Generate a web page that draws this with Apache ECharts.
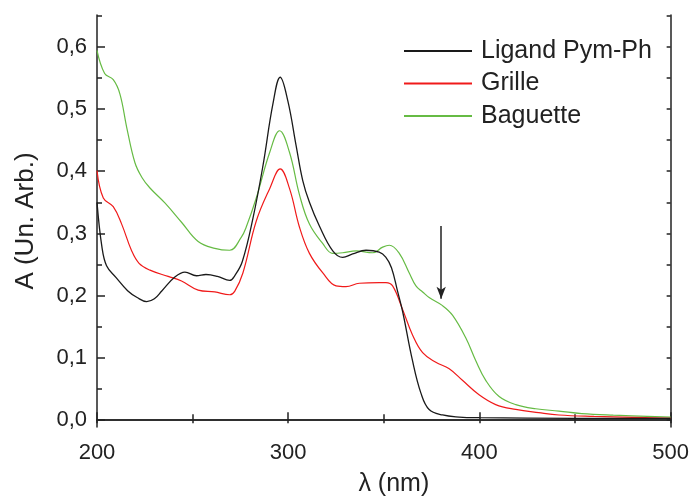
<!DOCTYPE html>
<html>
<head>
<meta charset="utf-8">
<script src="https://cdn.jsdelivr.net/npm/echarts@6/dist/echarts.min.js"></script>
<style>html,body{margin:0;padding:0;background:#fff}#c{width:692px;height:502px}</style>
</head>
<body>
<div id="c"></div>
<script>
// wavelength (nm) / absorbance pairs
const ligandPymPh = [[200,0.350],[202.5,0.280],[205,0.248],[210,0.229],[216,0.208],[221,0.197],[226,0.1905],[230,0.195],[234,0.208],[240.7,0.230],[246,0.238],[252,0.232],[257,0.234],[263,0.231],[269.4,0.2245],[272,0.232],[276,0.255],[281.6,0.325],[286.8,0.409],[292,0.508],[295.8,0.551],[299.8,0.513],[304.2,0.440],[307.6,0.385],[311.1,0.350],[316.3,0.312],[323.3,0.272],[328.5,0.2615],[333.7,0.267],[340.7,0.273],[347.6,0.270],[351,0.262],[354,0.245],[357.2,0.207],[359.8,0.175],[365,0.0955],[369.4,0.0434],[373.7,0.017],[380.7,0.0083],[389.4,0.005],[400,0.004],[450,0.003],[500,0.0027]];
const grille = [[200,0.401],[203.3,0.357],[208.5,0.343],[212.9,0.315],[218,0.273],[222,0.252],[227.7,0.241],[237.2,0.231],[244.2,0.2235],[252.9,0.209],[261.6,0.206],[269.4,0.2015],[272,0.207],[276.3,0.2365],[283.3,0.32],[290.3,0.372],[295.8,0.4036],[300.7,0.372],[305.9,0.31],[311.1,0.268],[318.1,0.2365],[325,0.2157],[330.2,0.2145],[337.2,0.220],[347.6,0.221],[351.1,0.221],[354.6,0.2157],[359.8,0.178],[365,0.137],[370.3,0.1085],[377.2,0.093],[384.2,0.0825],[391.1,0.064],[399.8,0.0407],[408.5,0.025],[419,0.0172],[431,0.012],[441.6,0.0083],[460,0.006],[480,0.0045],[500,0.003]];
const baguette = [[200,0.594],[204,0.557],[208.5,0.547],[212,0.524],[215.5,0.471],[219.8,0.414],[223.5,0.390],[227.7,0.373],[235.5,0.349],[244.2,0.318],[252.9,0.287],[261.6,0.276],[269.4,0.273],[275.5,0.294],[278,0.31],[283.3,0.357],[290.3,0.43],[295.5,0.465],[300.7,0.43],[305.9,0.362],[311.1,0.315],[318.1,0.2835],[323.3,0.268],[328.5,0.269],[335.5,0.272],[344.2,0.269],[349.4,0.278],[352.9,0.281],[358.1,0.268],[363.3,0.2365],[366.8,0.2157],[370.3,0.206],[373.7,0.197],[380.7,0.184],[385.9,0.1687],[392.9,0.132],[398.1,0.0955],[403.3,0.064],[410.3,0.038],[419,0.025],[429.4,0.0183],[441.6,0.0146],[453.5,0.0105],[470,0.008],[500,0.005]];
const seriesNames = ['Ligand Pym-Ph','Grille','Baguette'];
const yMajorTicks = [0,0.1,0.2,0.3,0.4,0.5,0.6];
const yMinorTicks = [0.05,0.15,0.25,0.35,0.45,0.55,0.65];
const arrowMark = {x:380, from:0.312, to:0.195};

const FONT = 'Liberation Sans, Arial, Helvetica, sans-serif';
const AX = '#222';
const chart = echarts.init(document.getElementById('c'), null, {renderer:'canvas'});
const fmt = v => v.toFixed(1).replace('.', ',');
const yBase = {type:'value', min:-0.011, max:0.651, splitLine:{show:false}};
chart.setOption({
  animation:false,
  backgroundColor:'#fff',
  grid:{left:97, right:20, top:15, bottom:64, containLabel:false},
  legend:{
    orient:'vertical', left:399, top:33, itemWidth:68, itemHeight:2, itemGap:6.5, icon:'rect',
    textStyle:{fontSize:25, fontFamily:FONT, color:AX, lineHeight:26, padding:[0,0,0,4]},
    data:seriesNames
  },
  xAxis:[
    {type:'value', min:200, max:500, interval:100, position:'bottom',
     axisLine:{lineStyle:{color:AX, width:1.5}},
     axisTick:{inside:true, length:8, lineStyle:{color:AX, width:1.5}},
     minorTick:{show:true, splitNumber:2, length:6, lineStyle:{color:AX, width:1.5}},
     splitLine:{show:false}, minorSplitLine:{show:false},
     axisLabel:{fontSize:22, fontFamily:FONT, color:AX, margin:15},
     name:'λ (nm)', nameLocation:'middle', nameGap:45,
     nameTextStyle:{fontSize:25, fontFamily:FONT, color:AX, padding:[0,0,0,20]}},
    {type:'value', min:200, max:500, interval:100, position:'top',
     axisLine:{lineStyle:{color:AX, width:1.5}},
     axisTick:{inside:true, length:3, lineStyle:{color:AX, width:1.5}},
     minorTick:{show:true, splitNumber:2, length:3, lineStyle:{color:AX, width:1.5}},
     splitLine:{show:false}, axisLabel:{show:false}}
  ],
  yAxis:[
    Object.assign({}, yBase, {position:'left',
     axisLine:{show:true, lineStyle:{color:AX, width:1.5}},
     axisTick:{show:true, inside:true, length:8, customValues:yMajorTicks, lineStyle:{color:AX, width:1.5}},
     axisLabel:{show:true, customValues:yMajorTicks, formatter:fmt, fontSize:22, fontFamily:FONT, color:AX, margin:10},
     name:'A (Un. Arb.)', nameLocation:'middle', nameGap:58,
     nameTextStyle:{fontSize:26, fontFamily:FONT, color:AX}}),
    Object.assign({}, yBase, {position:'left',
     axisLine:{show:false},
     axisTick:{show:true, inside:true, length:5, customValues:yMinorTicks, lineStyle:{color:AX, width:1.5}},
     axisLabel:{show:false}}),
    Object.assign({}, yBase, {position:'right',
     axisLine:{show:true, lineStyle:{color:AX, width:1.5}},
     axisTick:{show:true, inside:true, length:4, customValues:yMajorTicks.concat(yMinorTicks), lineStyle:{color:AX, width:1.5}},
     axisLabel:{show:false}})
  ],
  series:[
    {name:seriesNames[0], type:'line', data:ligandPymPh, smooth:0.4, symbol:'none', color:'#1a1a1a',
     lineStyle:{width:1.3}, z:3,
     markLine:{silent:true, symbol:['none','arrow'], symbolSize:[7,12], label:{show:false},
       lineStyle:{color:AX, width:1.5, type:'solid'},
       data:[[{coord:[arrowMark.x, arrowMark.from]},{coord:[arrowMark.x, arrowMark.to]}]]}},
    {name:seriesNames[1], type:'line', data:grille, smooth:0.4, symbol:'none', color:'#f01a1a', lineStyle:{width:1.2}, z:2},
    {name:seriesNames[2], type:'line', data:baguette, smooth:0.4, symbol:'none', color:'#66bb44', lineStyle:{width:1.2}, z:1}
  ]
});
</script>
</body>
</html>
